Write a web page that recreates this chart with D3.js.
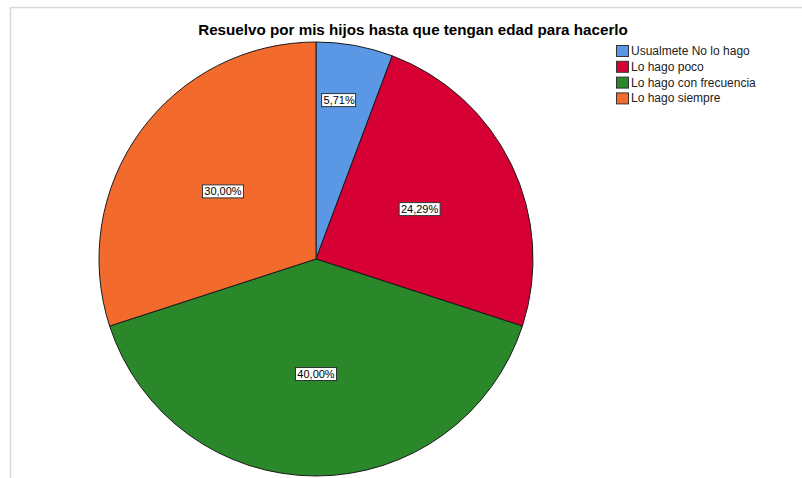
<!DOCTYPE html>
<html>
<head>
<meta charset="utf-8">
<script src="https://cdn.jsdelivr.net/npm/d3@7"></script>
<style>
  body { margin: 0; background: #fff; }
  svg { display: block; font-family: "Liberation Sans", Arial, sans-serif; }
</style>
</head>
<body>
<div id="chart"></div>
<script>
// Pie chart data (counts out of 70)
const categories = ['Usualmete No lo hago', 'Lo hago poco', 'Lo hago con frecuencia', 'Lo hago siempre'];
const counts = [4, 17, 28, 21];
const colors = ['#5a98e6', '#d70035', '#2a882a', '#f36a2d'];
const title = 'Resuelvo por mis hijos hasta que tengan edad para hacerlo';

const width = 802;
const height = 478;

const svg = d3.select('#chart')
  .append('svg')
  .attr('width', width)
  .attr('height', height);

// Light frame (top + left)
svg.append('path')
  .attr('d', `M10.5,${height} V7.5 H${width}`)
  .attr('fill', 'none')
  .attr('stroke', '#d8d8d8')
  .attr('stroke-width', 1.5);

// Title
svg.append('text')
  .attr('x', 413)
  .attr('y', 35)
  .attr('text-anchor', 'middle')
  .attr('font-size', '15.2px')
  .attr('font-weight', 'bold')
  .attr('fill', '#000')
  .text(title);

// Pie
const cx = 316;
const cy = 259;
const radius = 217;
const total = d3.sum(counts);

const pie = d3.pie().sort(null).value(d => d);
const arcs = pie(counts);
const arc = d3.arc().innerRadius(0).outerRadius(radius);

const g = svg.append('g').attr('transform', `translate(${cx},${cy})`);

g.selectAll('path.slice')
  .data(arcs)
  .enter()
  .append('path')
  .attr('class', 'slice')
  .attr('d', arc)
  .attr('fill', (d, i) => colors[i])
  .attr('stroke', '#1a1a1a')
  .attr('stroke-width', 1);

// Percent labels: small slices pushed outward
const fmt = v => (v * 100).toFixed(2).replace('.', ',') + '%';

const labels = g.selectAll('g.label')
  .data(arcs)
  .enter()
  .append('g')
  .attr('class', 'label')
  .attr('transform', d => {
    const span = d.endAngle - d.startAngle;
    const r = span < 0.5 ? radius * 0.74 : radius * 0.53;
    const a = span < 0.5 ? (d.startAngle + d.endAngle) / 2 - 0.035 : (d.startAngle + d.endAngle) / 2;
    return `translate(${Math.sin(a) * r},${-Math.cos(a) * r})`;
  });

labels.append('text')
  .attr('text-anchor', 'middle')
  .attr('y', 4)
  .attr('font-size', '11px')
  .attr('fill', '#000')
  .text(d => fmt(d.value / total));

labels.each(function() {
  const t = d3.select(this).select('text').node().getBBox();
  d3.select(this).insert('rect', 'text')
    .attr('x', Math.round(t.x) - 1.5)
    .attr('y', -6.5)
    .attr('width', Math.round(t.width) + 3)
    .attr('height', 13)
    .attr('fill', '#fff')
    .attr('stroke', '#333')
    .attr('stroke-width', 1);
});

// Legend
const legend = svg.append('g').attr('transform', 'translate(616,45)');
const rows = legend.selectAll('g')
  .data(categories)
  .enter()
  .append('g')
  .attr('transform', (d, i) => `translate(0,${i * 15.8})`);

rows.append('rect')
  .attr('x', 0.5)
  .attr('y', 0.5)
  .attr('width', 12)
  .attr('height', 11)
  .attr('fill', (d, i) => colors[i])
  .attr('stroke', '#333')
  .attr('stroke-width', 1);

rows.append('text')
  .attr('x', 15)
  .attr('y', 10)
  .attr('font-size', '12px')
  .attr('fill', '#222')
  .text(d => d);
</script>
</body>
</html>
